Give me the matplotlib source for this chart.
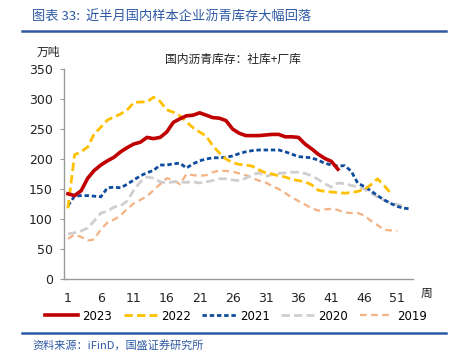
#!/usr/bin/env python3
# -*- coding: utf-8 -*-

import numpy as np
from matplotlib import pyplot as plt
from matplotlib.lines import Line2D

# weekly inventory, 10k tonnes (social + factory)
inv2023 = [142, 139, 147, 168, 181, 190, 197, 203, 212, 219,
           225, 228, 236, 234, 236, 245, 261, 267, 272, 273,
           277, 273, 269, 268, 264, 250, 243, 239, 239, 239,
           240, 241, 241, 237, 237, 236, 225, 217, 208, 201,
           196, 183]
inv2022 = [118, 207, 212, 220, 242, 253, 265, 270, 275, 282,
           294, 295, 295, 303, 296, 282, 278, 272, 262, 252,
           245, 238, 222, 210, 200, 194, 191, 190, 188, 182,
           177, 175, 172, 170, 166, 164, 162, 157, 148, 146,
           145, 144, 143, 144, 146, 149, 157, 167, 156, 143]
inv2021 = [122, 138, 139, 139, 138, 137, 152, 153, 152, 158,
           165, 172, 177, 181, 190, 190, 192, 193, 185, 192,
           197, 200, 202, 202, 203, 205, 209, 212, 214, 215,
           215, 215, 215, 212, 208, 204, 203, 202, 198, 193,
           190, 188, 189, 180, 160, 154, 147, 139, 132, 126,
           121, 118, 117]
inv2020 = [75, 77, 80, 85, 97, 110, 113, 120, 122, 130,
           148, 162, 170, 168, 162, 160, 162, 162, 161, 162,
           160, 162, 164, 167, 167, 165, 164, 168, 174, 177,
           171, 174, 176, 177, 178, 178, 176, 172, 166, 159,
           153, 160, 159, 156, 154, 150, 143, 137, 131, 127,
           124, 122]
inv2019 = [67, 74, 70, 64, 66, 83, 94, 99, 106, 117,
           126, 132, 138, 148, 158, 168, 165, 158, 175, 173,
           172, 173, 178, 181, 180, 179, 176, 173, 168, 164,
           161, 155, 150, 143, 136, 130, 124, 118, 114, 116,
           117, 115, 111, 110, 110, 106, 97, 90, 82, 81,
           80]

xticks = list(range(1, 52, 5))
yticks = list(range(0, 351, 50))

BLUE = "#2E59A3"
CJK = ["Noto Sans CJK SC", "DejaVu Sans"]

plt.rcParams["font.family"] = ["DejaVu Sans", "Noto Sans CJK SC"]

# (label, values, color, linewidth, dashes)
series = [
    ("2023", inv2023, "#C00000", 2.6, None),
    ("2022", inv2022, "#FFC000", 2.0, (3, 1.5)),
    ("2021", inv2021, "#0E4C9E", 2.0, (1.6, 1.0)),
    ("2020", inv2020, "#D0CECE", 2.0, (3, 1.5)),
    ("2019", inv2019, "#F4B183", 1.6, (3, 2)),
]

fig = plt.figure(figsize=(4.5, 3.63), dpi=100)
ax = fig.add_axes([64 / 450, 1 - 279 / 363, 349 / 450, 210 / 363])

handles = []
for label, vals, color, lw, dashes in reversed(series):
    weeks = np.arange(1, len(vals) + 1)
    line, = ax.plot(weeks, vals, color=color, lw=lw, label=label,
                    solid_joinstyle="round", dash_capstyle="butt")
    if dashes is not None:
        line.set_dashes(dashes)
    handles.append(line)
handles = handles[::-1]

ax.set_xlim(0.4, 53.4)
ax.set_ylim(0, 350)
ax.set_xticks(xticks)
ax.set_yticks(yticks)
ax.tick_params(axis="x", length=0, pad=9, labelsize=9, colors="#222222")
ax.tick_params(axis="y", length=3, pad=5, labelsize=9, colors="#222222",
               color="#999999")
for side in ("top", "right"):
    ax.spines[side].set_visible(False)
for side in ("left", "bottom"):
    ax.spines[side].set_color("#999999")
    ax.spines[side].set_linewidth(1.0)

# texts around the plot
fig.text(32 / 450, 1 - 17 / 363, "图表 33:  近半月国内样本企业沥青库存大幅回落",
         family=CJK, fontsize=9.5, color=BLUE, va="center", ha="left")
fig.add_artist(Line2D([22 / 450, 446 / 450], [1 - 31 / 363, 1 - 31 / 363],
                      color=BLUE, lw=1.8))
fig.text(37 / 450, 1 - 52 / 363, "万吨", family=CJK, fontsize=8.5,
         color="#222222", va="center", ha="left")
fig.text(233 / 450, 1 - 59 / 363, "国内沥青库存：社库+厂库", family=CJK,
         fontsize=8.5, color="#222222", va="center", ha="center")
fig.text(421 / 450, 1 - 293 / 363, "周", family=CJK, fontsize=8.5,
         color="#222222", va="center", ha="left")

fig.legend(handles=handles, loc="center", ncol=5, frameon=False,
           bbox_to_anchor=(236 / 450, 1 - 316 / 363), fontsize=8.5,
           handlelength=2.8, handletextpad=0.35, columnspacing=1.0)

fig.add_artist(Line2D([22 / 450, 446 / 450], [1 - 333 / 363, 1 - 333 / 363],
                      color=BLUE, lw=1.8))
fig.text(32 / 450, 1 - 345 / 363, "资料来源：iFinD，国盛证券研究所",
         family=CJK, fontsize=8, color=BLUE, va="center", ha="left")

fig.savefig("out.png", dpi=100)
